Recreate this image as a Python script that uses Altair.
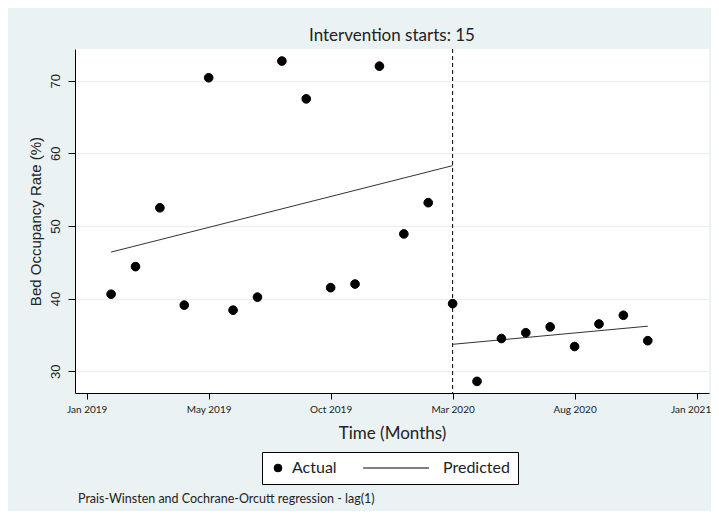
import altair as alt
import pandas as pd

# ---- data ----
months = [1, 2, 3, 4, 5, 6, 7, 8, 9, 10, 11, 12, 13, 14, 15, 16, 17, 18, 19, 20, 21, 22, 23]
actual = [40.6, 44.4, 52.5, 39.1, 70.4, 38.4, 40.2, 72.7, 67.5, 41.5, 42.0, 72.0,
          48.9, 53.2, 39.3, 28.6, 34.5, 35.3, 36.1, 33.4, 36.5, 37.7, 34.2]
pred_t = [1, 15, 15, 23]
pred_val = [46.4, 58.3, 33.7, 36.2]
pred_phase = ["Pre", "Pre", "Post", "Post"]
intervention = 15
x_tick_values = [0, 5, 10, 15, 20, 25]
x_tick_labels = ["Jan 2019", "May 2019", "Oct 2019", "Mar 2020", "Aug 2020", "Jan 2021"]
y_tick_values = [30, 40, 50, 60, 70]
footnote = "Prais-Winsten and Cochrane-Orcutt regression - lag(1)"

df_actual = pd.DataFrame({"t": months, "rate": actual, "series": ["Actual"] * len(months)})
df_pred = pd.DataFrame({"t": pred_t, "rate": pred_val, "phase": pred_phase})
df_int = pd.DataFrame({"t": [intervention]})
df_note = pd.DataFrame({"note": [footnote]})

TXT = "#222222"
x_scale = alt.Scale(domain=[-0.48, 25.51], nice=False, zero=False)
y_scale = alt.Scale(domain=[27.0, 74.36], nice=False, zero=False)

label_expr = "[" + ",".join("'%s'" % l for l in x_tick_labels) + "][round(datum.value/5)]"

x_axis = alt.Axis(values=x_tick_values, labelExpr=label_expr, title="Time (Months)",
                  grid=False, tickSize=6, labelPadding=5, labelFont="Lato", labelFontSize=10,
                  labelColor=TXT, titleFont="Lato", titleFontSize=17, titleFontWeight="normal",
                  titleColor=TXT, titleX=317, titleY=40, titleBaseline="middle",
                  domainColor="#000000", tickColor="#000000", labelFlush=False,
                  labelOffset={"condition": {"test": "datum.value == %d" % x_tick_values[-1],
                                             "value": -6}, "value": 0})
y_axis = alt.Axis(values=y_tick_values, title="Bed Occupancy Rate (%)", grid=True,
                  gridColor="#e6eff0", tickSize=7, labelPadding=6, labelAngle=270,
                  labelAlign="center", labelBaseline="bottom", labelFont="Liberation Sans",
                  labelFontSize=13, labelColor=TXT, titleFont="Liberation Sans",
                  titleFontSize=15, titleFontWeight="normal", titleColor=TXT,
                  titleAngle=270, titleX=-40, titleY=172, titleAlign="center",
                  titleBaseline="middle", domainColor="#000000", tickColor="#000000")

points = alt.Chart(df_actual).mark_point(filled=False, opacity=1, size=75, color="black",
                                         fill="black", fillOpacity=1, strokeWidth=1).encode(
    x=alt.X("t:Q", scale=x_scale, axis=x_axis),
    y=alt.Y("rate:Q", scale=y_scale, axis=y_axis),
    shape=alt.Shape("series:N",
                    scale=alt.Scale(domain=["Actual", "Predicted"], range=["circle", "M-17,0H0"]),
                    legend=alt.Legend(title=None, orient="none", legendX=187, legendY=403,
                                      direction="horizontal", fillColor="white",
                                      strokeColor="black", padding=8, labelFont="Lato",
                                      labelFontSize=16, labelColor=TXT, symbolSize=60,
                                      symbolStrokeWidth=1, columnPadding=24, labelOffset=6)),
)

lines = alt.Chart(df_pred).mark_line(color="#333333", strokeWidth=1).encode(
    x=alt.X("t:Q", scale=x_scale),
    y=alt.Y("rate:Q", scale=y_scale),
    detail="phase:N",
)

rule = alt.Chart(df_int).mark_rule(color="black", strokeWidth=1, strokeDash=[4, 3]).encode(
    x=alt.X("t:Q", scale=x_scale),
)

note = alt.Chart(df_note).mark_text(align="left", baseline="middle", font="Lato",
                                   fontSize=12.5, color=TXT).encode(
    x=alt.value(3), y=alt.value(450), text="note:N"
)

chart = alt.layer(rule, lines, points, note).properties(
    width=634, height=344,
    title=alt.TitleParams("Intervention starts: %d" % intervention, font="Lato", fontSize=17,
                          fontWeight="normal", color=TXT, anchor="middle", offset=4),
    autosize=alt.AutoSizeParams(type="none"),
    padding={"left": 67, "top": 41, "right": 2, "bottom": 118},
).configure(background="#eaf2f3").configure_view(fill="white", strokeWidth=0)

chart.save("out.html", embed_options={"renderer": "svg", "actions": False})
